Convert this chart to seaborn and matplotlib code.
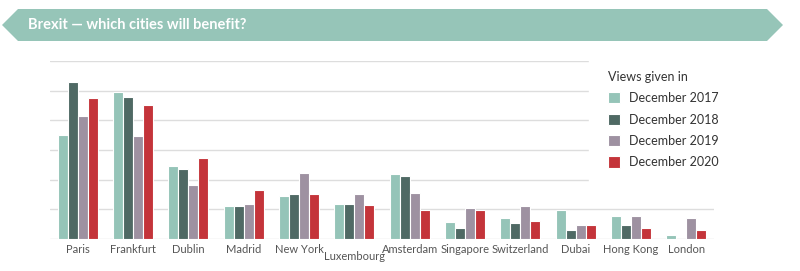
import numpy as np
import pandas as pd
import matplotlib.pyplot as plt
import seaborn as sns
from matplotlib.patches import Polygon
from matplotlib.transforms import ScaledTranslation

cities = ['Paris', 'Frankfurt', 'Dublin', 'Madrid', 'New York', 'Luxembourg',
          'Amsterdam', 'Singapore', 'Switzerland', 'Dubai', 'Hong Kong', 'London']
years = ['December 2017', 'December 2018', 'December 2019', 'December 2020']
dec2017 = [35.0, 49.5, 24.6, 11.1, 14.6, 11.8, 21.8, 5.7, 7.0, 9.9, 7.6, 1.3]
dec2018 = [52.8, 48.0, 23.5, 11.1, 15.2, 11.8, 21.2, 3.6, 5.4, 2.9, 4.8, 0.0]
dec2019 = [41.6, 34.7, 18.1, 11.8, 22.4, 15.2, 15.5, 10.4, 11.1, 4.8, 7.6, 7.0]
dec2020 = [47.6, 45.1, 27.2, 16.4, 15.2, 11.4, 9.9, 9.9, 6.1, 4.8, 3.6, 2.9]
colors = ['#95c4b8', '#4f6964', '#9e91a1', '#c4343a']

df = pd.DataFrame({'city': cities * 4,
                   'year': np.repeat(years, len(cities)),
                   'value': dec2017 + dec2018 + dec2019 + dec2020})

sns.set_style('white')
plt.rcParams['font.family'] = ['Lato', 'DejaVu Sans']

fig = plt.figure(figsize=(8, 2.71), dpi=100)
ax = fig.add_axes([0.0625, 0.118, 0.83, 0.657])

sns.barplot(data=df, x='city', y='value', hue='year', hue_order=years,
            palette=colors, saturation=1, width=0.72, edgecolor='white',
            linewidth=0.8, ax=ax, zorder=3)

ax.set_ylim(0, 60)
ax.set_xlim(-0.5, 11.5)
ax.set_yticks(np.arange(0, 61, 10))
ax.yaxis.grid(True, color='#dddddd', linewidth=1, zorder=0)
ax.set_axisbelow(True)
ax.tick_params(axis='y', left=False, labelleft=False)
ax.tick_params(axis='x', bottom=False, labelsize=8, labelcolor='#555555', pad=0)
ax.set_xlabel('')
ax.set_ylabel('')
sns.despine(ax=ax, left=True, bottom=True)

# stagger Luxembourg label
for lab in ax.get_xticklabels():
    if lab.get_text() == 'Luxembourg':
        lab.set_transform(lab.get_transform() + ScaledTranslation(0, -5 / 72, fig.dpi_scale_trans))

leg = ax.legend(title='Views given in', loc='upper left',
                bbox_to_anchor=(589 / 800, 1 - 52 / 271), bbox_transform=fig.transFigure,
                frameon=True, facecolor='white', edgecolor='white', framealpha=1,
                fontsize=9, title_fontsize=9, handlelength=1.0, handleheight=1.0,
                handletextpad=0.7, labelspacing=0.75, borderpad=1.5, borderaxespad=0)
leg._legend_box.align = 'left'
for t in leg.get_texts():
    t.set_color('#333333')
leg.get_title().set_color('#333333')

# banner
H = 271.0
W = 800.0
pts = [(2, 25), (18, 9), (767, 9), (783, 25), (767, 41), (18, 41)]
banner = Polygon([(x / W, 1 - y / H) for x, y in pts], closed=True,
                 transform=fig.transFigure, facecolor='#96c5b8', edgecolor='none')
fig.patches.append(banner)
fig.text(28 / W, 1 - 25 / H, 'Brexit \u2014 which cities will benefit?', color='white',
         fontsize=10.5, fontweight='bold', va='center', ha='left')

fig.savefig('out.png', dpi=100)
